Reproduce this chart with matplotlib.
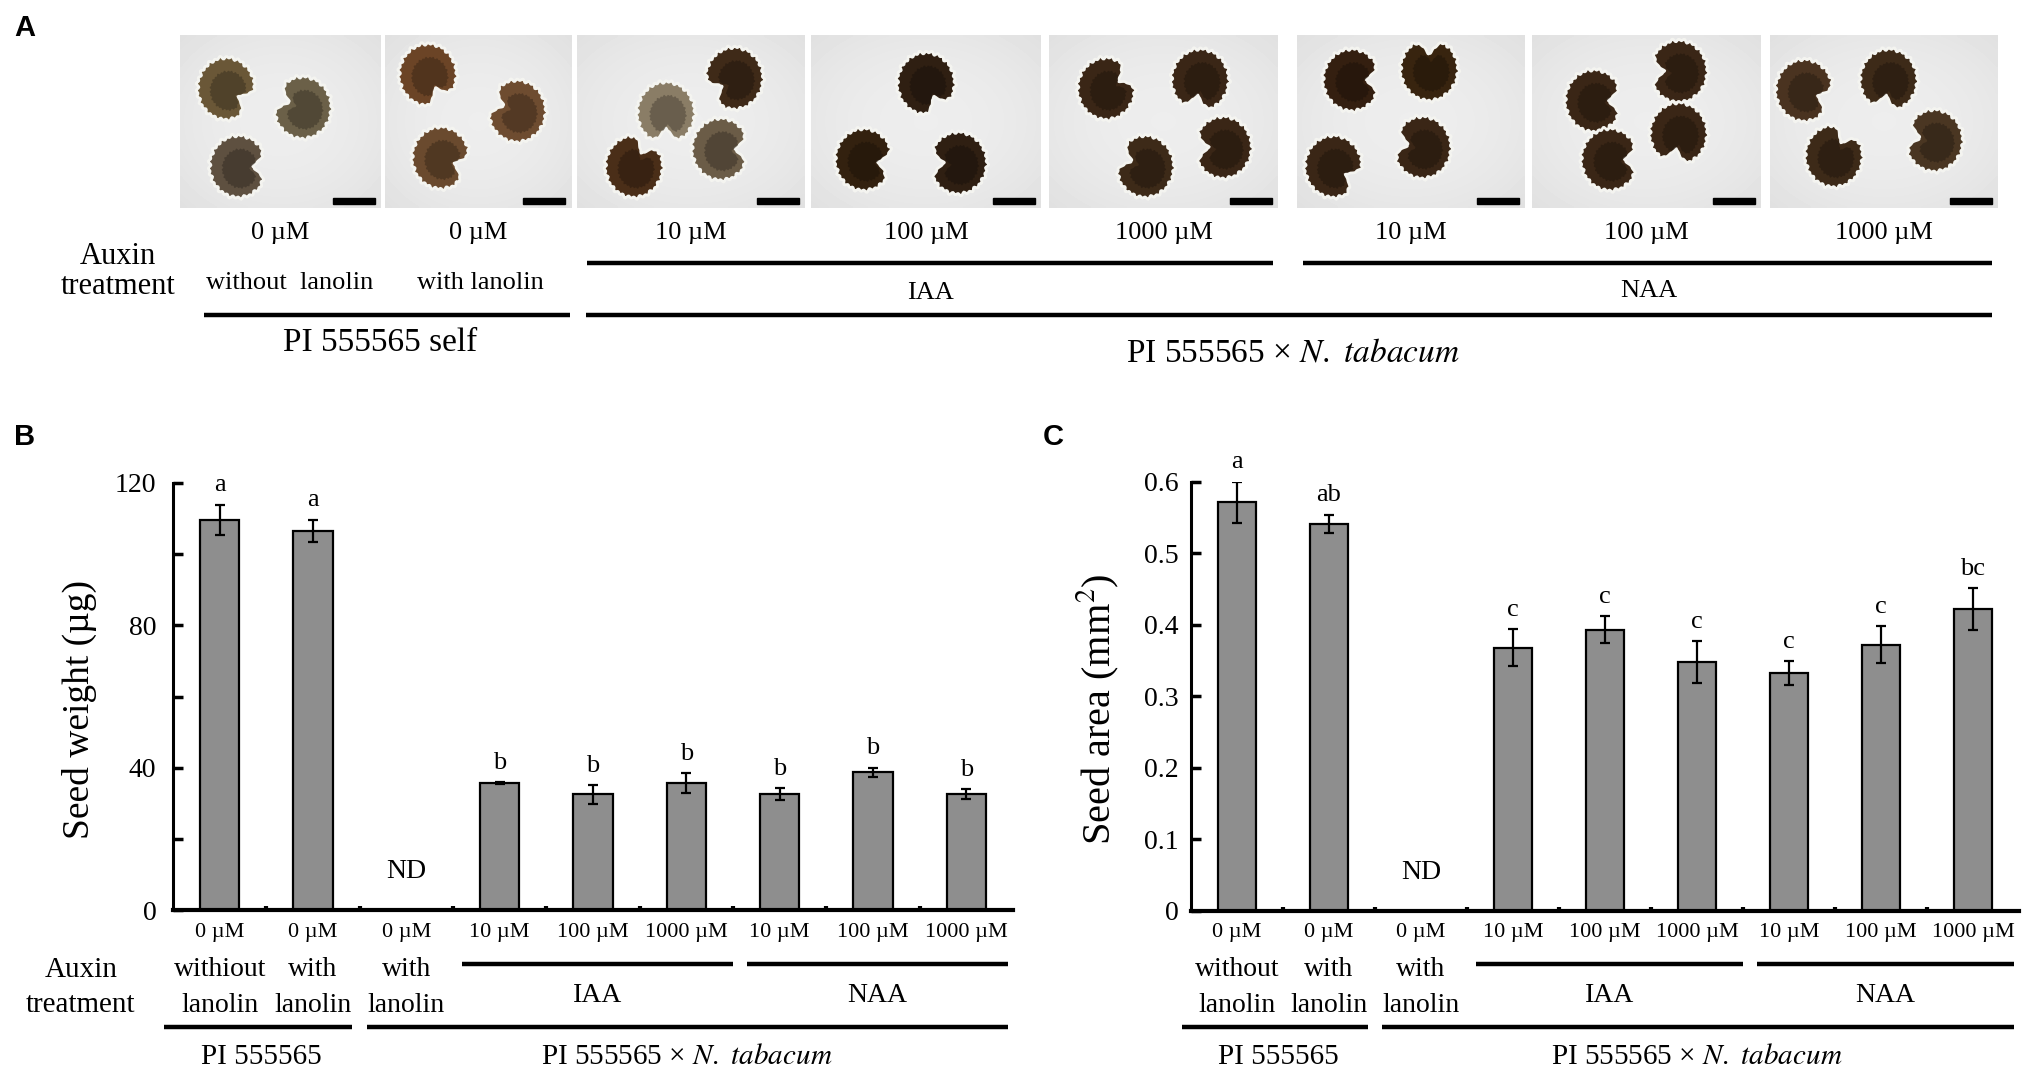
import numpy as np
import matplotlib
matplotlib.use('Agg')
import matplotlib.pyplot as plt
from matplotlib.transforms import blended_transform_factory
from matplotlib.patches import Polygon, Rectangle
from matplotlib.lines import Line2D

plt.rcParams['font.family'] = ['Liberation Serif', 'DejaVu Serif']
plt.rcParams['mathtext.fontset'] = 'stix'

W, H = 2033, 1071

# ---- data ----
conc_labels = ['0 µM', '0 µM', '0 µM', '10 µM', '100 µM', '1000 µM', '10 µM', '100 µM', '1000 µM']
weight = [109.6, 106.5, np.nan, 35.6, 32.5, 35.6, 32.6, 38.7, 32.6]
weight_err = [4.3, 3.2, np.nan, 0.3, 2.6, 2.8, 1.6, 1.3, 1.4]
weight_letters = ['a', 'a', '', 'b', 'b', 'b', 'b', 'b', 'b']
area = [0.571, 0.541, np.nan, 0.368, 0.393, 0.348, 0.332, 0.372, 0.422]
area_err = [0.029, 0.013, np.nan, 0.026, 0.019, 0.029, 0.017, 0.026, 0.029]
area_letters = ['a', 'ab', '', 'c', 'c', 'c', 'c', 'c', 'bc']

photo_labels = ['0 µM', '0 µM', '10 µM', '100 µM', '1000 µM', '10 µM', '100 µM', '1000 µM']

# photo frames (pixel x-range) and seed layout inside them (rel x, rel y, notch angle, colour)
photo_x = [(180, 381), (385, 571), (577, 805), (811, 1041), (1049, 1278), (1297, 1525), (1532, 1761), (1770, 1998)]
photo_y = (35, 208)
seeds = [
    [(0.23, 0.31, 30, '#6a5737'), (0.61, 0.42, 200, '#6b6048'), (0.29, 0.76, 0, '#5e5040')],
    [(0.23, 0.23, 60, '#6b4426'), (0.71, 0.44, 200, '#6e4c30'), (0.30, 0.71, 20, '#6a4a2e')],
    [(0.69, 0.25, 150, '#3f2a18'), (0.39, 0.45, 90, '#8a7d66'), (0.25, 0.76, 300, '#4a2e18'), (0.63, 0.66, 0, '#6b5c47')],
    [(0.50, 0.28, 60, '#2f1f12'), (0.23, 0.72, 10, '#33210f'), (0.64, 0.74, 180, '#2f1f12')],
    [(0.25, 0.31, 330, '#3a2616'), (0.66, 0.26, 100, '#3a2616'), (0.42, 0.76, 200, '#3d2a18'), (0.76, 0.65, 180, '#3a2616')],
    [(0.24, 0.26, 0, '#341f10'), (0.58, 0.20, 270, '#38240f'), (0.16, 0.76, 30, '#3a2616'), (0.55, 0.65, 190, '#3a2616')],
    [(0.64, 0.21, 180, '#3a2616'), (0.27, 0.38, 0, '#3a2616'), (0.64, 0.57, 100, '#3a2616'), (0.34, 0.72, 0, '#3a2616')],
    [(0.15, 0.32, 20, '#4a3320'), (0.52, 0.26, 100, '#3d2a18'), (0.28, 0.70, 300, '#3d2a18'), (0.72, 0.61, 190, '#4a3622')],
]

fig = plt.figure(figsize=(W / 100, H / 100), dpi=100)
fig.patch.set_facecolor('white')
sans = ['Liberation Sans', 'DejaVu Sans']


def ftext(x, y, s, size, **kw):
    fig.text(x / W, 1 - y / H, s, fontsize=size, ha=kw.pop('ha', 'center'), va=kw.pop('va', 'center'), **kw)


def fline(x0, x1, y, lw=3.2):
    fig.add_artist(Line2D([x0 / W, x1 / W], [1 - y / H, 1 - y / H], transform=fig.transFigure, color='black', lw=lw,
                          solid_capstyle='butt'))


def seed_outline(cx, cy, r, notch):
    t = np.linspace(0, 2 * np.pi, 240)
    d = np.angle(np.exp(1j * (t - np.radians(notch))))
    rr = r * (1 - 0.5 * np.exp(-(d / 0.32) ** 2)) * (1 + 0.035 * np.sin(31 * t) + 0.02 * np.sin(17 * t + 1))
    return np.column_stack([cx + rr * np.cos(t), cy + 1.08 * rr * np.sin(t)])


def shade(col, f):
    c = np.array(matplotlib.colors.to_rgb(col))
    return tuple(c * f)


# ---------------- panel A ----------------
ftext(25, 28, 'A', 21, family=sans, weight='bold')
ph = photo_y[1] - photo_y[0]
for (x0, x1), sd, lab in zip(photo_x, seeds, photo_labels):
    w = x1 - x0
    pa = fig.add_axes([x0 / W, 1 - photo_y[1] / H, w / W, ph / H])
    # soft light background, brighter in the middle
    gx, gy = np.meshgrid(np.linspace(-1, 1, 60), np.linspace(-1, 1, 50))
    pa.imshow(0.93 - 0.05 * (gx ** 2 + gy ** 2) / 2, cmap='gray', vmin=0, vmax=1,
              extent=(0, w, ph, 0), aspect='auto', interpolation='bilinear')
    for rx, ry, notch, col in sd:
        cx, cy = rx * w, ry * ph
        pa.add_patch(Polygon(seed_outline(cx, cy, 29, notch), closed=True, facecolor=col,
                             edgecolor='#f4f4f0', lw=2.0))
        pa.add_patch(Polygon(seed_outline(cx + 2, cy + 2, 18, notch), closed=True, facecolor=shade(col, 0.7),
                             edgecolor='none', alpha=0.8))
    pa.add_patch(Rectangle((w - 48, ph - 10), 42, 5.5, color='black'))
    pa.set_xlim(0, w)
    pa.set_ylim(ph, 0)
    pa.axis('off')
    ftext((x0 + x1) / 2, 233, lab, 19)

ftext(118, 257, 'Auxin', 22)
ftext(118, 287, 'treatment', 22)
ftext(290, 283, 'without  lanolin', 19)
ftext(480, 283, 'with lanolin', 19)
fline(587, 1273, 263)
fline(1303, 1992, 263)
ftext(930, 293, 'IAA', 19)
ftext(1649, 291, 'NAA', 19)
fline(204, 570, 315)
fline(586, 1992, 315)
ftext(380, 343, 'PI 555565 self', 24)
ftext(1293, 353, r'PI 555565 × $\mathit{N.}$ $\mathit{tabacum}$', 24)


# ---------------- panels B and C ----------------
def bar_panel(box, vals, errs, letters, ymax, ymajor, yminor, ylabel, ylab_size, ylab_x, first_word, pad):
    ax = fig.add_axes(box)
    x = np.arange(len(vals))
    v = np.array(vals, dtype=float)
    e = np.array(errs, dtype=float)
    ok = ~np.isnan(v)
    ax.bar(x[ok], v[ok], width=0.42, color='#8e8e8e', edgecolor='black', linewidth=1.6,
           yerr=e[ok], error_kw=dict(ecolor='black', elinewidth=1.6, capsize=3.5, capthick=1.6), zorder=2)
    for xi, vi, ei, l in zip(x[ok], v[ok], e[ok], np.array(letters)[ok]):
        ax.annotate(l, (xi, vi + ei), xytext=(0, 14), textcoords='offset points', ha='center', va='center',
                    fontsize=19, annotation_clip=False)
    ax.text(2, 0.09 * ymax, 'ND', ha='center', va='center', fontsize=20)
    ax.set_xlim(-0.5, len(vals) - 0.5)
    ax.set_ylim(0, ymax)
    for s in ['top', 'right']:
        ax.spines[s].set_visible(False)
    ax.spines['left'].set_linewidth(2.2)
    ax.spines['bottom'].set_linewidth(3)
    ax.set_yticks(ymajor)
    ax.set_yticks(yminor, minor=True)
    ax.set_yticklabels([('%g' % t) for t in ymajor])
    ax.tick_params(axis='y', which='both', direction='in', length=7, width=2.5, labelsize=20, pad=pad)
    ax.set_xticks([])
    ax.set_xticks(np.arange(0.5, len(vals) - 0.5, 1), minor=True)
    ax.tick_params(axis='x', which='minor', direction='in', length=3, width=3)
    ax.text(ylab_x, 0.47, ylabel, transform=ax.transAxes, rotation=90, ha='center', va='center', fontsize=ylab_size)

    tr = blended_transform_factory(ax.transData, fig.transFigure)

    def t(xd, y, s, size):
        ax.text(xd, 1 - y / H, s, transform=tr, ha='center', va='center', fontsize=size, clip_on=False)

    def ln(xa, xb, y):
        ax.add_artist(Line2D([xa, xb], [1 - y / H, 1 - y / H], transform=tr, color='black', lw=3.2,
                             solid_capstyle='butt', clip_on=False))

    for xi, lab in zip(x, conc_labels):
        t(xi, 933, lab, 16)
    for xi, word in zip(x[:3], [first_word, 'with', 'with']):
        t(xi, 970, word, 20)
        t(xi, 1005, 'lanolin', 20)
    ln(2.6, 5.5, 964)
    ln(5.65, 8.45, 964)
    t(4.05, 996, 'IAA', 20)
    t(7.05, 996, 'NAA', 20)
    ln(-0.6, 1.42, 1027)
    ln(1.58, 8.45, 1027)
    t(0.45, 1057, 'PI 555565', 21)
    t(5.0, 1057, r'PI 555565 × $\mathit{N.}$ $\mathit{tabacum}$', 21)
    return ax


ftext(25, 437, 'B', 21, family=sans, weight='bold')
bar_panel([173 / W, 1 - 910 / H, 840 / W, 427 / H], weight, weight_err, weight_letters, 120,
          [0, 40, 80, 120], [20, 60, 100], 'Seed weight (µg)', 27, -0.111, 'withiout', 12)
ftext(81, 970, 'Auxin', 21)
ftext(81, 1005, 'treatment', 21)

ftext(1053, 437, 'C', 21, family=sans, weight='bold')
bar_panel([1191 / W, 1 - 910.7 / H, 828 / W, 429 / H], area, area_err, area_letters, 0.6,
          [0, 0.1, 0.2, 0.3, 0.4, 0.5, 0.6], [], r'Seed area (mm$^{2}$)', 29, -0.112, 'without', 9)

fig.savefig('out.png', dpi=100)
